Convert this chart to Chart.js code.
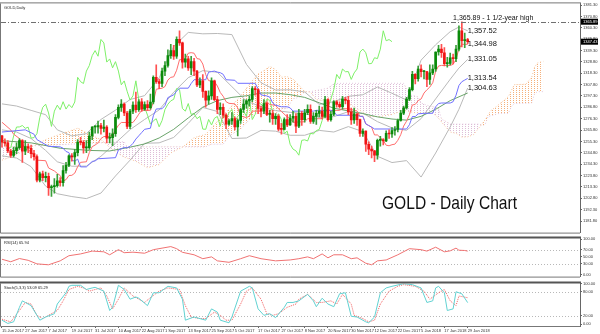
<!DOCTYPE html>
<html>
<head>
<meta charset="utf-8">
<title>GOLD - Daily Chart</title>
<script src="https://cdn.jsdelivr.net/npm/chart.js@4.4.1/dist/chart.umd.min.js"></script>
<style>
  body { margin: 0; background: #fff; }
  #board { position: relative; width: 600px; height: 334px; overflow: hidden; background: #fff; }
  #board canvas { position: absolute; left: 0; }
</style>
</head>
<body>
<div id="board">
  <canvas id="priceChart" width="600" height="236" style="top:0px"></canvas>
  <canvas id="rsiChart" width="600" height="45" style="top:235px"></canvas>
  <canvas id="stochChart" width="600" height="54" style="top:280px"></canvas>
</div>
<script>
// x is the bar number, bar 0 = 15 Jun 2017, one bar per trading day
const tickDates = ['15 Jun 2017', '27 Jun 2017', '7 Jul 2017', '19 Jul 2017', '31 Jul 2017', '10 Aug 2017',
  '22 Aug 2017', '1 Sep 2017', '13 Sep 2017', '25 Sep 2017', '5 Oct 2017', '17 Oct 2017', '27 Oct 2017',
  '8 Nov 2017', '20 Nov 2017', '30 Nov 2017', '12 Dec 2017', '22 Dec 2017', '5 Jan 2018', '17 Jan 2018', '29 Jan 2018'];
const barsPerTick = 8;

const opens = [1260.5,1254.6,1254,1246.5,1242.5,1246.8,1249.6,1256.2,1246.3,1250.6,1249,1244,1241.3,1219.6,1225.4,1221.8,1223,1212.5,1213.5,1214.5,
  1219,1217.3,1228.5,1233.3,1242,1241,1245,1254.6,1254.4,1249.4,1249.5,1260.3,1268.6,1268.7,1270,1267.4,1268.5,1258.4,1258.8,1262.4,
  1277.6,1286.8,1289.7,1281.6,1269.2,1283.3,1288.8,1284.6,1292,1285.2,1289.4,1286.5,1291.7,1314.5,1310.5,1308.8,1320.3,1325.4,1334.6,1339.2,
  1334,1349.5,1346.3,1328.6,1331.5,1323.3,1329,1320.3,1307.6,1311.2,1301.6,1293.5,1297.4,1311.3,1293.9,1284.9,1286.9,1279.6,1271.3,1274.3,
  1276.3,1268.8,1274.6,1284.8,1289.7,1292.8,1294.2,1304.1,1303.2,1285.7,1283.3,1290.3,1280.3,1281.1,1276.3,1278.5,1266.7,1266.5,1275.6,1270.5,
  1276.7,1278.4,1269.4,1281.3,1275.3,1281.8,1284.9,1273.8,1278.4,1281.2,1283.4,1278.4,1294,1275.5,1280.4,1291.9,1289.5,1287.5,1294.4,1293.3,
  1282.6,1275.1,1280.9,1275.5,1262.7,1264.8,1252.7,1248.2,1246.6,1242.6,1256.3,1256.8,1255.7,1262.8,1262.2,1265.4,1266.3,1274.6,1281.5,1286.3,
  1294.4,1303.1,1317.2,1313.2,1322.2,1319.7,1319.8,1312.6,1318.6,1322.2,1337.9,1340.6,1337.2,1327.1,1327.3,1332.6,1331.8,1340.6,1357.5,1348.3,
  1349.4];
const highs = [1261,1257.6,1256,1248,1250,1254,1258,1257,1256,1253,1252,1247,1243,1227,1228,1227,1226,1215,1221,1225,
  1222,1233,1236,1243,1244,1248,1257,1259,1256,1256,1264,1269,1270,1274,1272,1275,1270,1263,1267,1280,
  1289,1294,1291,1283,1285,1292,1301,1294,1295,1292,1293,1299,1316,1326,1313,1323,1329,1340,1345,1344,
  1352,1357.5,1347,1336,1334,1334,1332,1321,1314,1317,1302,1302,1314,1312,1297,1291,1290,1281,1276,1282,
  1278,1276,1286,1294,1294,1297,1306,1306,1304,1288,1294,1292,1284,1284,1281,1280,1272,1277,1280,1280,
  1283,1281,1285,1283,1285,1289,1289,1282,1284,1288,1287,1297,1295,1283,1293,1293,1292,1297,1296,1297,
  1286,1286,1281,1276,1267,1265,1255,1251,1247,1257.5,1260,1258,1265,1266,1268,1269,1276,1284,1288,1296,
  1305,1320,1318,1325,1326,1321,1320,1326,1326,1338,1344,1345,1342,1333,1337,1336,1344,1362,1365.89,1355.5,
  1350.5];
const lows = [1250,1251,1244.9,1240.5,1241,1244,1248,1236,1243,1245,1240,1238,1218,1218,1219,1218,1205.5,1204.5,1207.5,1213,
  1214,1214,1226,1232,1237,1234,1242,1252,1244.5,1245,1248,1257,1263,1263,1262,1264,1254,1254,1251.5,1260,
  1276,1283,1279,1267,1267,1281,1282,1283,1283,1284,1284,1285,1290,1309,1304,1306,1316,1324,1332,1331,
  1332,1344,1323,1324,1321,1317,1316,1306,1305,1296,1287,1290,1294,1293,1281,1280,1277,1267,1270,1271,
  1266,1260.5,1272,1282,1286,1288,1292,1298,1281,1278,1281,1279,1273,1271,1271,1265,1262,1266,1269,1270,
  1273,1263.5,1268,1270,1273,1280,1272,1272,1271,1278,1276,1277,1274,1274,1279,1287,1286,1285,1290,1280,
  1271,1272,1270,1260,1260,1246,1243,1240,1236.5,1239,1251,1252,1255,1258,1259,1261,1264,1274,1280,1285,
  1293,1302,1308.5,1311,1315,1313,1306,1308,1317,1320,1335,1333,1325,1324,1326,1327,1329,1339,1342.5,1342,
  1345.5];
const closes = [1254.6,1253.8,1246.5,1242.5,1246.8,1249.6,1256.2,1246.3,1250.6,1249,1244,1241.3,1219.6,1225.4,1221.8,1223,1212.5,1213.5,1214.5,1219,
  1217.3,1228.5,1233.3,1242,1241,1245,1254.6,1254.4,1249.4,1249.5,1260.3,1268.6,1268.7,1270,1267.4,1268.5,1258.4,1258.8,1262.4,1277.6,
  1286.8,1289.7,1281.6,1269.2,1283.3,1288.8,1284.6,1292,1285.2,1289.4,1286.5,1291.7,1314.5,1310.5,1308.8,1320.3,1325.4,1334.6,1339.2,1334,
  1349.5,1346.3,1328.6,1331.5,1323.3,1329,1320.3,1307.6,1311.2,1301.6,1293.5,1297.4,1311.3,1293.9,1284.9,1286.9,1279.6,1271.3,1274.3,1276.3,
  1268.8,1274.6,1284.8,1289.7,1292.8,1294.2,1304.1,1303.2,1285.7,1283.3,1290.3,1280.3,1281.1,1276.3,1278.5,1266.7,1266.5,1275.6,1270.5,1276.7,
  1278.4,1269.4,1281.3,1275.3,1281.8,1284.9,1273.8,1278.4,1281.2,1283.4,1278.4,1294,1275.5,1280.4,1291.9,1289.5,1287.5,1294.4,1293.3,1282.6,
  1275.1,1280.9,1275.5,1262.7,1264.8,1252.7,1248.2,1246.6,1242.6,1256.3,1256.8,1255.7,1262.8,1262.2,1265.4,1266.3,1274.6,1281.5,1286.3,1294.4,
  1303.1,1317.2,1313.2,1322.2,1319.7,1319.8,1312.6,1318.6,1322.2,1337.9,1340.6,1337.2,1327.1,1327.3,1332.6,1331.8,1340.6,1357.5,1348.3,1349.4,
  1347.43];

// Ichimoku lines as [bar, price]
const tenkan = [[0,1273],[3,1266],[4,1262],[6,1258],[8,1248.5],[10,1246],[12,1238],[15,1237.5],[16,1230.8],[18,1228],[19,1225.8],[20,1223.8],
  [21,1218.8],[22,1220],[23,1223.8],[24,1224],[25,1226],[26,1232],[27,1236],[29,1236.5],[30,1245],[31,1250.5],[32,1252],[33,1254],[34,1258],
  [35,1259.8],[37,1260],[38,1261.5],[39,1265.8],[40,1270.3],[41,1272.8],[45,1272.8],[46,1276.3],[47,1280.5],[48,1284],[51,1284],[52,1291.5],
  [53,1303.5],[55,1304.5],[56,1306],[57,1312],[58,1314.5],[59,1315],[60,1321],[61,1330.8],[62,1330.8],[63,1331.8],[64,1336.8],[65,1337.3],
  [66,1336.8],[67,1331.8],[68,1331.3],[69,1326.8],[70,1317],[71,1311.5],[73,1310.5],[74,1306.5],[75,1300.5],[76,1297],[77,1292],[78,1290.5],
  [80,1290],[81,1286.3],[82,1278.8],[84,1277.3],[85,1278.8],[86,1283.3],[89,1283.3],[90,1289],[91,1292],[92,1289.5],[94,1288.5],[95,1285.5],
  [96,1283],[98,1278],[99,1277],[100,1273],[104,1273.5],[105,1276.3],[110,1276.3],[111,1283.5],[112,1284],[116,1284],[117,1285.5],[119,1285.5],
  [121,1284],[122,1283.5],[123,1278.5],[124,1278.5],[125,1271.5],[126,1270],[127,1268.5],[128,1261.3],[129,1261.3],[130,1258.8],[131,1256.3],
  [132,1251.8],[133,1251.3],[134,1252.3],[135,1252.8],[136,1256.3],[137,1261.5],[138,1269.5],[139,1274],[140,1280],[141,1289],[142,1289.5],
  [143,1293],[144,1294.5],[145,1300],[146,1303],[147,1305.5],[148,1309.5],[149,1320],[150,1325],[151,1325.5],[154,1325.5],[155,1326.5],
  [156,1331],[157,1341],[158,1345],[160,1344.98]];
const kijun = [[0,1264],[8,1266],[11,1262],[12,1257],[16,1250.8],[20,1250.3],[21,1249],[22,1246],[23,1245],[24,1238],[25,1237],[26,1239],
  [27,1231.8],[29,1231.8],[30,1234.3],[31,1236.8],[32,1237.3],[33,1239.3],[39,1240.3],[40,1247.3],[42,1249.8],[43,1249.3],[44,1250.8],
  [45,1253.5],[46,1257.5],[47,1260.5],[48,1263.5],[49,1266.5],[51,1267.5],[52,1279],[53,1285.3],[55,1285.5],[56,1288.5],[57,1295.8],
  [59,1298.3],[60,1301.8],[61,1304.5],[64,1304.5],[65,1308.8],[66,1312.3],[70,1312.3],[71,1319.3],[72,1319.8],[73,1320.3],[74,1319.3],
  [75,1318.8],[76,1317.3],[77,1312.3],[80,1311.8],[81,1309],[87,1309],[88,1303.8],[89,1298.3],[91,1297.3],[92,1296.3],[93,1290.8],
  [94,1288.8],[96,1287.3],[98,1287.3],[99,1286.3],[100,1283.3],[107,1283.3],[108,1284],[113,1284],[114,1283],[115,1279.5],[122,1279.5],
  [123,1278.5],[124,1278.5],[125,1271.5],[126,1270],[127,1268.5],[128,1266.8],[139,1266.8],[140,1270.8],[141,1278.3],[142,1278.3],
  [143,1280.8],[145,1281.3],[148,1281.3],[149,1287.3],[150,1290.3],[151,1290.8],[154,1290.8],[155,1292],[156,1298],[157,1307],
  [158,1310.5],[159,1312],[160,1313.54]];
const spanA = [[0,1238],[5,1243],[10,1250],[15,1257],[20,1262],[26,1267.5],[30,1262],[34,1257],[38,1247.5],[42,1240.8],[46,1237],
  [50,1231],[54,1234],[58,1244.7],[62,1250],[66,1258.8],[70,1261.8],[74,1273.8],[78,1285.3],[82,1297.3],[86,1311.4],[88,1317.7],
  [90,1320.7],[92,1324.6],[94,1321.8],[96,1314.7],[98,1315.2],[100,1312.9],[102,1307.2],[104,1301.4],[106,1300.9],[108,1293.9],
  [110,1293.2],[112,1296.2],[114,1293.6],[116,1293.2],[118,1292.9],[120,1288.7],[122,1285.2],[124,1282.7],[126,1278.2],[130,1278.4],
  [134,1280.2],[138,1284],[142,1281.8],[146,1281.8],[148,1281.5],[150,1276.8],[152,1270],[154,1264],[156,1262.8],[158,1259.3],
  [160,1259.6],[162,1261.5],[164,1268.2],[166,1275.4],[168,1283.9],[170,1287.8],[172,1292.2],[174,1296.8],[176,1307.7],[180,1308.2],
  [182,1314.5],[183,1324],[184,1327.8],[186,1329.3]];
const spanB = [[0,1250],[42,1255],[43,1250.3],[70,1250.3],[72,1252.8],[76,1252.8],[78,1260.3],[82,1266.8],[86,1278.3],[87,1281],
  [94,1281],[96,1285.3],[98,1285.8],[100,1294.8],[102,1295.8],[104,1301],[106,1301.3],[112,1304.5],[114,1308.8],[117,1309],[138,1309],
  [139,1303.8],[140,1298.3],[142,1297.3],[143,1296.3],[144,1290.8],[146,1288.8],[148,1287.3],[149,1287],[150,1286],[151,1276],
  [152,1274.5],[153,1273],[154,1271.3],[164,1271.3],[165,1270.3],[166,1270.8],[167,1278.3],[171,1281.3],[174,1281.3],[175,1287.3],
  [176,1290.3],[182,1290.8],[183,1299.3],[184,1301.3],[186,1301.3]];
const chikouShift = 26;

// Bollinger bands (20, 2) and the 50-day average
const bbBars = [0,5,10,15,19,24,29,34,39,44,49,54,59,64,69,74,79,84,89,94,99,104,109,114,119,124,129,134,139,144,149,154,157,160];
const bbUpper = [1290,1288,1284,1280,1266,1260.4,1262.5,1275.6,1284.2,1294,1297.6,1314,1343,1356,1354.7,1355,1354,1326.5,1309.5,1302.8,
  1303,1301,1289.5,1292,1297,1298.4,1305.6,1299.8,1293.6,1330.4,1344.6,1356.7,1361,1357.52];
const bbMiddle = [1266,1264,1258,1247,1236.5,1232.4,1232.5,1241.6,1253.8,1266.2,1275.6,1284.4,1300.8,1314.2,1320.7,1319.2,1305.9,1292.5,
  1287.5,1283.8,1282.2,1281,1277.5,1278.2,1282.8,1281.4,1273.6,1267.8,1265.6,1276.4,1294.6,1312.7,1323.1,1331.05];
const bbLower = [1242,1240,1232,1214,1207,1204.4,1202.5,1207.6,1223.4,1238,1253.6,1254,1259,1272,1286.7,1283,1258,1258.5,1265.5,1264.8,
  1261,1261,1265.5,1264,1269,1264.4,1241.6,1235.8,1237.6,1222.4,1244.6,1268.7,1285,1304.63];
const maBars = [0,10,20,30,37,44,49,54,59,64,69,74,79,84,89,94,99,104,109,114,119,124,129,134,139,144,149,154,160];
const ma50 = [1256,1254,1249,1247,1246.5,1250,1253,1258.5,1266.5,1277,1287,1293,1296,1297.5,1300,1300,1298.5,1296,1291,1286,1283.5,
  1281,1278,1276,1275,1278.5,1285,1293,1300];

// oscillators as [bar, value]
const rsi14 = [[0,43],[3,36],[6,45],[9,40],[12,30],[16,27.4],[20,38.5],[23,53],[27,58],[31,66],[35,64],[37,55.6],[40,70],[42,61.5],
  [45,63],[49,60],[52,70],[58,78.7],[60,72.8],[62,62.6],[66,55.6],[69,44.6],[72,49.7],[74,38.5],[78,34.4],[82,44.6],[85,53],[89,44.6],
  [94,38.5],[99,41],[102,44.6],[105,49.7],[107,44.6],[110,58],[112,47],[114,55.6],[117,55.6],[120,44.6],[122,47],[125,31.8],[127,27.4],
  [129,38.5],[132,41],[136,55.6],[140,72.8],[144,70],[146,66],[149,77],[152,64],[154,66.7],[156,74.4],[157,68.5],[159,67.7],[160,65.94]];
const stochMain = [[0,9.6],[2,1.6],[4,5.5],[6,41.5],[7,57.5],[8,53.5],[10,45.6],[12,21.6],[13,9.6],[15,17.5],[18,25.6],[19,49.6],
  [22,77.5],[23,93.5],[24,96],[27,96],[29,85.6],[31,89.5],[32,91],[35,81.5],[37,33.6],[38,41.5],[40,96],[42,85.6],[44,61.6],[46,67],
  [47,64],[50,45.6],[52,77.5],[54,77.5],[57,93.5],[60,89.5],[62,61.6],[63,9.6],[66,17.5],[70,9.6],[72,37.6],[74,29.5],[75,9.6],[78,3.2],
  [79,17.5],[82,81.5],[85,93.5],[86,89.5],[88,37.6],[90,21.6],[92,25.6],[94,16],[97,41.5],[98,53.5],[100,53.5],[102,57.5],[105,73.6],
  [107,57.5],[108,43],[110,64],[112,49.6],[114,43],[116,75],[118,77.5],[120,19.2],[122,17.5],[125,5.5],[126,3.2],[128,17.5],[130,77.5],
  [132,89.5],[134,93.5],[138,100],[141,97.6],[144,89.5],[146,53.5],[148,57.5],[149,89.5],[150,93.5],[152,77.5],[153,33.6],[155,37.6],
  [156,80],[158,75],[160,53.09]];
const stochSignal = [[0,12],[3,5.5],[6,33.6],[8,53.5],[10,49.6],[12,21.6],[14,13.6],[16,21.6],[19,33.6],[21,57.5],[23,85.6],[26,93.5],
  [28,89.5],[30,81.5],[32,85.6],[34,89.5],[36,69.5],[38,37.6],[40,61.6],[42,89.5],[45,69.5],[47,61.6],[49,53.5],[51,65.5],[54,81.5],
  [57,89.5],[61,85.6],[63,45.6],[65,17.5],[68,13.6],[70,13.6],[73,29.5],[75,21.6],[77,9.6],[79,9.6],[82,49.6],[84,81.5],[86,89.5],
  [89,61.6],[91,25.6],[93,21.6],[95,25.6],[98,41.5],[101,49.6],[102,61.6],[105,73.6],[108,53.5],[110,53.5],[113,57.5],[115,49.6],
  [117,73.6],[120,49.6],[121,21.6],[124,13.6],[126,5.5],[128,9.6],[130,49.6],[133,81.5],[136,93.5],[138,97.6],[142,93.5],[145,81.5],
  [147,61.6],[150,77.5],[152,85.6],[154,57.5],[156,45.6],[157,69.5],[160,65.29]];

// price axis ticks and marked levels
const priceTicks = [1181.8,1192.3,1202.8,1213.3,1223.8,1234.3,1244.8,1255.3,1265.8,1276.3,1286.8,1297.3,1307.8,1318.3,1328.8,1339.3,
  1349.8,1360.3,1370.8,1381.3];
const rsiTicks = [0, 30, 50, 70, 100];
const stochTicks = [0, 20, 80, 100];
const yearHigh = 1365.89;
const levelNotes = [1357.52, 1344.98, 1331.05, 1313.54, 1304.63];

const FONT = '"Liberation Sans", Arial, sans-serif';
Chart.defaults.font.family = FONT;
Chart.defaults.animation = false;
Chart.defaults.events = [];
Chart.defaults.plugins.legend.display = false;
Chart.defaults.plugins.tooltip.enabled = false;

const pts = pairs => pairs.map(([x, y]) => ({ x, y }));
const series = (bars, vals) => vals.map((y, k) => ({ x: bars[k], y }));
const fmt = v => v.toLocaleString('en-US', { minimumFractionDigits: 2, maximumFractionDigits: 2 });
const isUp = i => closes[i] >= opens[i];

// MT4 style kumo: dotted vertical hatching
function dots(color) {
  const c = document.createElement('canvas');
  c.width = 3; c.height = 2;
  const g = c.getContext('2d');
  g.fillStyle = color;
  g.fillRect(0, 0, 1, 1);
  return g.createPattern(c, 'repeat');
}

function line(data, color, extra) {
  return Object.assign({ type: 'line', data, borderColor: color, borderWidth: 1, pointRadius: 0, fill: false, order: 2 }, extra || {});
}

const xBars = { type: 'linear', min: -0.34, max: 198.6, display: false, offset: false };

function rightAxis(min, max, values) {
  return {
    position: 'right', min, max,
    afterBuildTicks: s => { s.ticks = values.map(v => ({ value: v })); },
    afterFit: s => { s.width = 20; },
    grid: { drawOnChartArea: false, tickLength: 2, color: '#666' },
    border: { color: '#666' },
    ticks: { autoSkip: false, font: { size: 4 }, color: '#333', padding: 1, callback: v => v.toFixed(2) }
  };
}

// panel frame, heading and dotted levels
const panel = {
  id: 'panel',
  beforeDatasetsDraw(chart, args, opts) {
    const { ctx, chartArea: a } = chart;
    const y = chart.scales.y;
    ctx.save();
    ctx.strokeStyle = '#b8b8b8';
    ctx.setLineDash([1, 2]);
    (opts.levels || []).forEach(v => {
      const py = Math.round(y.getPixelForValue(v)) + 0.5;
      ctx.beginPath(); ctx.moveTo(a.left, py); ctx.lineTo(a.right, py); ctx.stroke();
    });
    ctx.restore();
  },
  afterDraw(chart, args, opts) {
    const { ctx, chartArea: a } = chart;
    ctx.save();
    ctx.strokeStyle = '#777';
    ctx.lineWidth = 1;
    ctx.beginPath();
    ctx.moveTo(a.left - 0.5, a.top); ctx.lineTo(a.left - 0.5, a.bottom + 0.5); ctx.lineTo(a.right, a.bottom + 0.5);
    ctx.stroke();
    ctx.strokeStyle = opts.topColor || '#777';
    ctx.lineWidth = opts.topWidth || 1;
    ctx.beginPath();
    ctx.moveTo(0, a.top - ctx.lineWidth / 2); ctx.lineTo(a.right + 1, a.top - ctx.lineWidth / 2);
    ctx.stroke();
    if (opts.title) {
      ctx.fillStyle = '#222';
      ctx.font = '4px ' + FONT;
      ctx.textBaseline = 'top';
      ctx.fillText(opts.title, a.left + 3, a.top + 2);
    }
    ctx.restore();
  }
};

// year-high line, level notes, price tags and caption on the price panel
const notes = {
  id: 'notes',
  afterDatasetsDraw(chart) {
    const { ctx, chartArea: a, scales: { x, y } } = chart;
    ctx.save();
    const hy = Math.round(y.getPixelForValue(yearHigh)) + 0.5;
    ctx.strokeStyle = '#707070';
    ctx.setLineDash([5, 2, 1, 2]);
    ctx.beginPath(); ctx.moveTo(a.left, hy); ctx.lineTo(a.right, hy); ctx.stroke();
    ctx.setLineDash([]);

    ctx.fillStyle = '#111';
    ctx.font = '7px ' + FONT;
    ctx.textBaseline = 'bottom';
    ctx.fillText(fmt(yearHigh) + ' - 1 1/2-year high', x.getPixelForValue(155), hy - 0.5);
    ctx.font = '7.5px ' + FONT;
    ctx.textBaseline = 'middle';
    levelNotes.forEach(v => ctx.fillText(fmt(v), x.getPixelForValue(160), y.getPixelForValue(v)));

    // caption: tall, slightly condensed lettering
    const caption = 'GOLD - Daily Chart';
    ctx.font = '18.5px ' + FONT;
    ctx.textBaseline = 'alphabetic';
    const w = ctx.measureText(caption).width;
    ctx.save();
    ctx.translate(382, 208.5);
    ctx.scale(135 / w, 1);
    ctx.fillText(caption, 0, 0);
    ctx.restore();

    ctx.font = '4px ' + FONT;
    [yearHigh, closes[closes.length - 1]].forEach(v => {
      const py = y.getPixelForValue(v);
      ctx.fillStyle = '#000';
      ctx.fillRect(a.right + 1, py - 3, 17, 6);
      ctx.fillStyle = '#fff';
      ctx.textBaseline = 'middle';
      ctx.fillText(v.toFixed(2), a.right + 3, py);
    });
    ctx.restore();
  }
};

const UP = '#0a8a0a', DOWN = '#f01414';

new Chart(document.getElementById('priceChart'), {
  type: 'bar',
  data: {
    datasets: [
      line(pts(spanA), '#f7c49a', { borderDash: [1, 2], order: 6,
        fill: { target: '+1', above: dots('#f5b07a'), below: dots('#ddbcd6') } }),
      line(pts(spanB), '#e3c6df', { borderDash: [1, 2], order: 6 }),
      line(series(bbBars, bbUpper), '#b9b9b9', { order: 4 }),
      line(series(bbBars, bbMiddle), '#b9b9b9', { order: 4 }),
      line(series(bbBars, bbLower), '#b9b9b9', { order: 4 }),
      line(series(maBars, ma50), '#6aa46a', { order: 3 }),
      line(closes.slice(chikouShift).map((c, k) => ({ x: k, y: c })), '#7ef068', { order: 3 }),
      line(pts(kijun), '#7070ff', { order: 2 }),
      line(pts(tenkan), '#ff6d6d', { order: 2 }),
      {
        type: 'bar', order: 1, grouped: false, barThickness: 1,
        data: lows.map((l, i) => ({ x: i, y: [l, highs[i]] })),
        backgroundColor: c => isUp(c.dataIndex) ? '#3aa03a' : '#ff5050'
      },
      {
        type: 'bar', order: 0, grouped: false, barThickness: 2, minBarLength: 1,
        data: opens.map((o, i) => ({ x: i, y: [o, closes[i]] })),
        backgroundColor: c => isUp(c.dataIndex) ? UP : DOWN
      }
    ]
  },
  options: {
    responsive: false,
    devicePixelRatio: 1,
    layout: { padding: { left: 1, top: 1, bottom: 1, right: 0 } },
    scales: { x: xBars, y: rightAxis(1171.1, 1382.8, priceTicks) },
    plugins: { panel: { title: 'GOLD,Daily', topColor: '#777', topWidth: 1 } }
  },
  plugins: [panel, notes]
});

new Chart(document.getElementById('rsiChart'), {
  type: 'line',
  data: { datasets: [line(pts(rsi14), '#f07272')] },
  options: {
    responsive: false,
    devicePixelRatio: 1,
    layout: { padding: { left: 1, top: 2, bottom: 1, right: 0 } },
    scales: { x: xBars, y: rightAxis(-5.9, 101.8, rsiTicks) },
    plugins: { panel: { title: 'RSI(14) ' + rsi14[rsi14.length - 1][1].toFixed(2), levels: [30, 70], topColor: '#555', topWidth: 2 } }
  },
  plugins: [panel]
});

const last = arr => arr[arr.length - 1][1].toFixed(2);
new Chart(document.getElementById('stochChart'), {
  type: 'line',
  data: {
    datasets: [
      line(pts(stochMain), '#62d2d2'),
      line(pts(stochSignal), '#f06060', { borderDash: [1, 1] })
    ]
  },
  options: {
    responsive: false,
    devicePixelRatio: 1,
    layout: { padding: { left: 1, top: 2, bottom: 0, right: 0 } },
    scales: {
      x: {
        type: 'linear', min: -0.34, max: 198.6, offset: false,
        afterBuildTicks: s => { s.ticks = tickDates.map((d, k) => ({ value: k * barsPerTick })); },
        afterFit: s => { s.height = 8; },
        grid: { drawOnChartArea: false, tickLength: 2, color: '#666' },
        border: { display: false },
        ticks: {
          autoSkip: false, maxRotation: 0, align: 'start', padding: 0, font: { size: 4 }, color: '#333',
          callback: v => tickDates[Math.round(v / barsPerTick)]
        }
      },
      y: rightAxis(-4.8, 100.7, stochTicks)
    },
    plugins: { panel: { title: 'Stoch(5,3,3) ' + last(stochMain) + ' ' + last(stochSignal), levels: [20, 80], topColor: '#555', topWidth: 2 } }
  },
  plugins: [panel]
});
</script>
</body>
</html>
